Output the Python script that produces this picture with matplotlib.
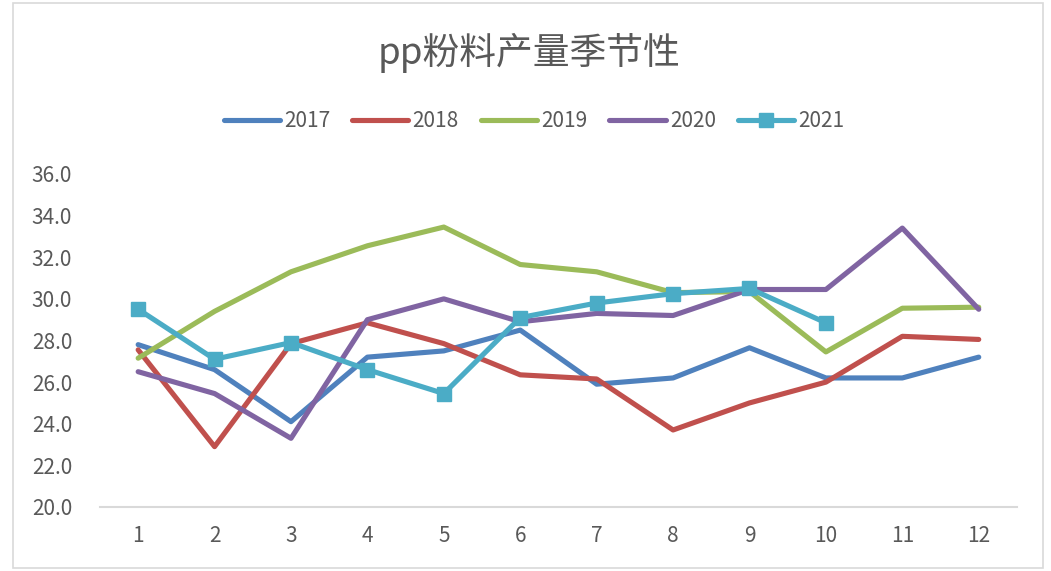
import matplotlib
matplotlib.use("Agg")
import matplotlib.pyplot as plt
from matplotlib.patches import Rectangle

plt.rcParams['font.family'] = ['Noto Sans CJK SC', 'DejaVu Sans']

months = [1, 2, 3, 4, 5, 6, 7, 8, 9, 10, 11, 12]
v2017 = [27.8, 26.6, 24.1, 27.2, 27.5, 28.5, 25.9, 26.2, 27.65, 26.2, 26.2, 27.2]
v2018 = [27.55, 22.9, 27.85, 28.85, 27.85, 26.35, 26.15, 23.7, 25.0, 26.0, 28.2, 28.05]
v2019 = [27.15, 29.4, 31.3, 32.55, 33.45, 31.65, 31.3, 30.3, 30.35, 27.45, 29.55, 29.6]
v2020 = [26.5, 25.45, 23.3, 29.0, 30.0, 28.9, 29.3, 29.2, 30.45, 30.45, 33.4, 29.5]
v2021 = [29.5, 27.1, 27.9, 26.6, 25.45, 29.1, 29.8, 30.25, 30.5, 28.85]

yticks = [20, 22, 24, 26, 28, 30, 32, 34, 36]
grey = '#595959'

fig = plt.figure(figsize=(10.51, 5.71), dpi=100)
ax = fig.add_axes([0.0951, 0.1121, 0.8725, 0.5832])

# outer chart frame, like the excel selection border
fig.patches.append(Rectangle((13/1051, 0.005), (1043-13)/1051, 0.99, transform=fig.transFigure,
                             fill=False, edgecolor='#d9d9d9', linewidth=1.2))

lw = 3.7
ax.plot(months, v2017, color='#4F81BD', lw=lw, label='2017', solid_capstyle='round')
ax.plot(months, v2018, color='#C0504D', lw=lw, label='2018', solid_capstyle='round')
ax.plot(months, v2019, color='#9BBB59', lw=lw, label='2019', solid_capstyle='round')
ax.plot(months, v2020, color='#8064A2', lw=lw, label='2020', solid_capstyle='round')
ax.plot(months[:len(v2021)], v2021, color='#4BACC6', lw=lw, label='2021',
        marker='s', markersize=10, solid_capstyle='round')

ax.set_xlim(0.5, 12.5)
ax.set_ylim(20, 36)
ax.set_xticks(months)
ax.set_yticks(yticks)
ax.set_yticklabels(['%.1f' % t for t in yticks])
for s in ['top', 'right', 'left']:
    ax.spines[s].set_visible(False)
ax.spines['bottom'].set_color('#d9d9d9')
ax.spines['bottom'].set_linewidth(1.5)
ax.tick_params(axis='both', length=0, labelsize=15, labelcolor=grey)
ax.tick_params(axis='y', pad=20)
ax.tick_params(axis='x', pad=13)

fig.text(0.503, 0.908, 'pp粉料产量季节性', ha='center', va='center', fontsize=26.5, color=grey)

leg = fig.legend(loc='center', bbox_to_anchor=(0.508, 0.788), ncol=5, frameon=False,
                 fontsize=15, handlelength=2.7, handletextpad=0.2, columnspacing=1.05)
for t in leg.get_texts():
    t.set_color(grey)

fig.savefig('out.png', dpi=100)
